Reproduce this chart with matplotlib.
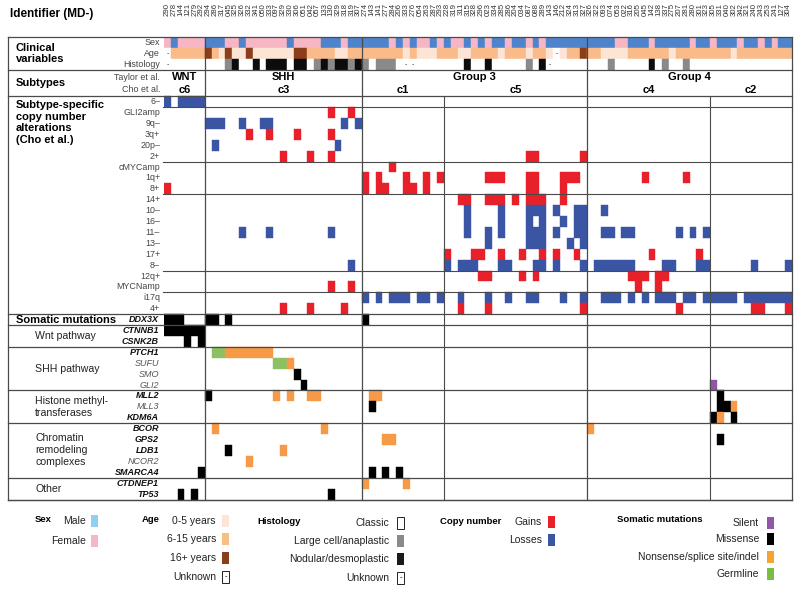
import matplotlib.pyplot as plt
from matplotlib import transforms
from matplotlib.patches import Rectangle

plt.rcParams['font.family'] = ['Liberation Sans', 'DejaVu Sans']

# ---------------- data ----------------
# sample identifiers (MD-), left to right
sample_ids = ('290 278 144 121 279 292 '
              '294 286 317 045 325 326 332 341 050 333 097 329 330 306 051 042 057 133 130 329 '
              '318 319 307 '
              '274 143 141 277 284 206 333 276 054 263 287 293 '
              '228 319 311 315 328 296 023 334 285 286 204 034 087 088 289 143 146 212 324 313 327 '
              '326 322 093 074 053 022 316 205 045 142 138 337 275 207 281 280 301 323 305 331 '
              '040 302 342 321 240 243 253 241 127 304').split()

taylor = ['WNT', 'SHH', 'Group 3', 'Group 4']
taylor_n = [6, 23, 33, 30]
cho = ['c6', 'c3', 'c1', 'c5', 'c4', 'c2']
cho_n = [6, 23, 12, 21, 18, 12]

# M = male, F = female
sex = ('FMFFFF' 'MMMFFMFFFFFFMFFFFMMMFMM' 'MMMMFMFMFFMF' 'MFFMFMFMMFMMFMFMMMMMM'
       'MMMMFFMMMFMMMMMFMM' 'FMMMFMMFMFMM')
# 0 = 0-5 years, 6 = 6-15 years, A = 16+ years, - = unknown
age = ('-66666' 'A60A00A000000AA66660066' '666666060006' '6600666606660660-066A'
       '660000666666066666' '666066666666')
# C = classic, L = large cell/anaplastic, N = nodular/desmoplastic, - = unknown
histology = ('-CCCCC' 'CCCLNCCNCNNNCNNCLNLNNLN' 'LCLLLC--CCCC' 'CCCNCCNCCCCCLCN-CCCCC'
             'CCCLCCCCCNCLCCLCCC' 'CCCCCCCCCCCC')

cna_labels = ['6\u2013', 'GLI2amp', '9q\u2013', '3q+', '20p\u2013', '2+', 'cMYCamp', '1q+', '8+',
              '14+', '10\u2013', '16\u2013', '11\u2013', '13\u2013', '17+', '8\u2013', '12q+',
              'MYCNamp', 'i17q', '4+']
cna_gain = [0, 1, 0, 1, 0, 1, 1, 1, 1, 1, 0, 0, 0, 0, 1, 0, 1, 1, 0, 1]
cna_samples = [
    [0, 2, 3, 4, 5],
    [24, 27],
    [6, 7, 8, 11, 14, 15, 26, 28],
    [12, 15, 19, 24],
    [7, 25],
    [17, 21, 24, 53, 54, 61],
    [33],
    [29, 31, 35, 38, 40, 47, 48, 49, 53, 54, 58, 59, 60, 70, 76],
    [0, 29, 31, 32, 35, 36, 38, 53, 54, 58],
    [43, 44, 47, 48, 49, 51, 53, 54, 55, 58],
    [44, 49, 53, 54, 55, 57, 60, 61, 64],
    [44, 49, 53, 55, 58, 60, 61],
    [11, 15, 24, 44, 47, 49, 53, 54, 55, 57, 60, 61, 64, 65, 67, 68, 75, 77, 79],
    [47, 53, 54, 55, 59, 61],
    [41, 45, 46, 49, 52, 55, 57, 60, 71, 78],
    [27, 41, 43, 44, 45, 49, 50, 54, 55, 57, 61, 63, 64, 65, 66, 67, 68, 73, 74, 78, 79, 86, 91],
    [46, 47, 52, 54, 68, 69, 70, 72, 73],
    [24, 27, 69, 72],
    [29, 31, 33, 34, 35, 37, 38, 40, 43, 47, 50, 53, 54, 58, 61, 64, 65, 66, 68, 70, 72, 73, 74,
     76, 77, 79, 80, 81, 82, 83, 85, 86, 87, 88, 89, 90, 91],
    [17, 21, 26, 43, 47, 61, 75, 86, 87, 91],
]

mut_genes = ['DDX3X', 'CTNNB1', 'CSNK2B', 'PTCH1', 'SUFU', 'SMO', 'GLI2', 'MLL2', 'MLL3', 'KDM6A',
             'BCOR', 'GPS2', 'LDB1', 'NCOR2', 'SMARCA4', 'CTDNEP1', 'TP53']
mut_bold = [1, 1, 1, 1, 0, 0, 0, 1, 0, 1, 1, 1, 1, 0, 1, 1, 1]
# sample + type  (M = missense, N = nonsense/splice site/indel, G = germline, S = silent)
mut_calls = [
    '0M 1M 2M 6M 7M 9M 29M',
    '0M 1M 2M 3M 4M 5M',
    '3M 5M',
    '7G 8G 9N 10N 11N 12N 13N 14N 15N',
    '16G 17G 18N',
    '19M',
    '20M 80S',
    '6M 16N 18N 21N 22N 30N 31N 81M',
    '30M 81M 82M 83N',
    '80M 81N 83M',
    '7N 23N 62N',
    '32N 33N 81M',
    '9M 17N',
    '12N',
    '5M 30M 32M 34M',
    '29N 35N',
    '2M 4M 24M',
]
mut_groups = ['Somatic mutations', 'Wnt pathway', 'SHH pathway', 'Histone methyl-\ntransferases',
              'Chromatin\nremodeling\ncomplexes', 'Other']
mut_group_n = [1, 2, 4, 3, 5, 2]

# ---------------- colours ----------------
sex_col = {'M': '#4f83cc', 'F': '#f6b6c4'}
age_col = {'0': '#fde5d6', '6': '#f9bb89', 'A': '#8c3d19', '-': 'white'}
hist_col = {'C': 'white', 'L': '#8a8a8a', 'N': '#0c0c0c', '-': 'white'}
gain_col, loss_col = '#e8202a', '#3b55a5'
mut_col = {'M': '#000000', 'N': '#f79a48', 'G': '#8cc063', 'S': '#8e57a8'}
line_col = '#4a4a4a'

# ---------------- figure ----------------
W, H = 800, 589
fig = plt.figure(figsize=(W / 100, H / 100), dpi=100)
TOP, BOT, LEFT, RIGHT, OUTER = 37.3, 499.5, 164, 792, 8
ax = fig.add_axes([LEFT / W, 1 - BOT / H, (RIGHT - LEFT) / W, (BOT - TOP) / H])

n = len(sex)
row_sub = 3
row_cna = 5.4
row_mut = row_cna + len(cna_labels)
row_end = row_mut + len(mut_genes)
ax.set_xlim(0, n)
ax.set_ylim(row_end, 0)
ax.axis('off')

# pixel transform (x right, y down from top-left of the figure)
pix = transforms.Affine2D().scale(1 / W, -1 / H).translate(0, 1) + fig.transFigure
side = transforms.blended_transform_factory(pix, ax.transData)
head = transforms.blended_transform_factory(ax.transData, pix)


def cells(cols, row, colors):
    if len(cols):
        ax.bar(cols, 1, bottom=row, width=1, align='edge', color=colors,
               edgecolor=colors, linewidth=0.3)


# clinical rows
cols = list(range(n))
cells(cols, 0, [sex_col[s] for s in sex])
cells(cols, 1, [age_col[a] for a in age])
cells(cols, 2, [hist_col[h] for h in histology])
for row, values in [(1, age), (2, histology)]:
    for i, v in enumerate(values):
        if v == '-':
            ax.text(i + 0.5, row + 0.5, '-', ha='center', va='center', fontsize=5, color='#333')

# copy number rows
for r, (samples, g) in enumerate(zip(cna_samples, cna_gain)):
    cells(samples, row_cna + r, gain_col if g else loss_col)

# mutation rows
for r, calls in enumerate(mut_calls):
    for call in calls.split():
        cells([int(call[:-1])], row_mut + r, mut_col[call[-1]])

# ---------------- grid lines ----------------
def hline(y, x0=OUTER, lw=0.9):
    ax.plot([x0, RIGHT], [y, y], transform=side, color=line_col, lw=lw, clip_on=False)


for y in [0, row_sub, row_cna, row_mut, row_end]:
    hline(y)
y = row_mut
for k in mut_group_n:
    y += k
    hline(y)
for y in [1, 6, 9, 16, 18]:
    hline(row_cna + y, x0=LEFT - 1, lw=0.8)
ax.plot([OUTER, OUTER], [0, row_end], transform=side, color=line_col, lw=0.9, clip_on=False)
ax.plot([RIGHT, RIGHT], [0, row_end], transform=side, color=line_col, lw=0.9, clip_on=False)

edge = 0
for k in taylor_n[:-1]:
    edge += k
    ax.vlines(edge, 0, row_end, color=line_col, lw=0.9)
for e in [41, 80]:
    ax.vlines(e, row_cna, row_end, color=line_col, lw=0.8)

# ---------------- texts ----------------
fig.text(10, 14, 'Identifier (MD-)', transform=pix, fontsize=8.5, fontweight='bold', va='center')
for i, sid in enumerate(sample_ids[:n]):
    ax.text(i + 0.5, 3, sid, transform=head, rotation=90, ha='center', va='top',
            fontsize=5.6, color='#333333')

bold = dict(fontsize=8, fontweight='bold', va='center', ha='left')
small = dict(fontsize=6.4, color='#444444', ha='right', va='center')
ax.text(16, 1.5, 'Clinical\nvariables', transform=side, linespacing=1.15, **bold)
for r, lab in enumerate(['Sex', 'Age', 'Histology']):
    ax.text(160, r + 0.5, lab, transform=side, **small)

ax.text(16, row_sub + 1.2, 'Subtypes', transform=side, **bold)
ax.text(160, row_sub + 0.65, 'Taylor et al.', transform=side, **small)
ax.text(160, row_sub + 1.75, 'Cho et al.', transform=side, **small)
start = 0
for name, k in zip(taylor, taylor_n):
    ax.text(start + k / 2, row_sub + 0.65, name, ha='center', va='center', fontsize=8,
            fontweight='bold')
    start += k
start = 0
for name, k in zip(cho, cho_n):
    ax.text(start + k / 2, row_sub + 1.8, name, ha='center', va='center', fontsize=8,
            fontweight='bold')
    start += k

ax.text(16, row_cna + 0.35, 'Subtype-specific\ncopy number\nalterations\n(Cho et al.)',
        transform=side, fontsize=8, fontweight='bold', va='top', ha='left', linespacing=1.2)
for r, lab in enumerate(cna_labels):
    ax.text(160, row_cna + r + 0.5, lab, transform=side, **small)

y = row_mut
for g, k in zip(mut_groups, mut_group_n):
    if g == 'Somatic mutations':
        ax.text(16, y + k / 2, g, transform=side, **bold)
    else:
        ax.text(35, y + k / 2, g, transform=side, fontsize=7.6, va='center', ha='left',
                linespacing=1.25, color='#222222')
    y += k
for r, (gene, b) in enumerate(zip(mut_genes, mut_bold)):
    ax.text(159, row_mut + r + 0.5, gene, transform=side, ha='right', va='center', fontsize=6.5,
            style='italic', fontweight='bold' if b else 'normal',
            color='#111111' if b else '#555555')

# ---------------- legend ----------------
leg_head = dict(transform=pix, fontsize=6.8, fontweight='bold', va='center', ha='left')
leg_lab = dict(transform=pix, fontsize=7.5, va='center', ha='right', color='#222222')


def swatch(x, y, color, outline=False, dash=False):
    fig.patches.append(Rectangle((x, y - 6), 7, 12, transform=pix,
                                 facecolor=color, edgecolor='#222222' if outline else color,
                                 lw=0.7 if outline else 0))
    if dash:
        fig.text(x + 3.5, y, '-', transform=pix, fontsize=5.5, ha='center', va='center')


fig.text(35, 519, 'Sex', **leg_head)
for lab, y, c in [('Male', 521, '#8fd0f1'), ('Female', 541, '#f6b6c4')]:
    fig.text(86, y, lab, **leg_lab)
    swatch(91, y, c)

fig.text(142, 520, 'Age', **leg_head)
for lab, y, c in [('0-5 years', 521, '#fde5d6'), ('6-15 years', 539, '#fbbd88'),
                  ('16+ years', 558, '#8c3d19')]:
    fig.text(216, y, lab, **leg_lab)
    swatch(222, y, c)
fig.text(216, 577, 'Unknown', **leg_lab)
swatch(222, 577, 'white', outline=True, dash=True)

fig.text(257, 522, 'Histology', **leg_head)
for lab, y, c in [('Classic', 523, 'white'), ('Large cell/anaplastic', 541, '#8a8a8a'),
                  ('Nodular/desmoplastic', 559, '#1a1a1a')]:
    fig.text(389, y, lab, **leg_lab)
    swatch(397, y, c, outline=(c == 'white'))
fig.text(389, 578, 'Unknown', **leg_lab)
swatch(397, 578, 'white', outline=True, dash=True)

fig.text(440, 522, 'Copy number', **leg_head)
for lab, y, c in [('Gains', 522, gain_col), ('Losses', 540, loss_col)]:
    fig.text(542, y, lab, **leg_lab)
    swatch(548, y, c)

fig.text(617, 520, 'Somatic mutations', **leg_head)
for lab, y, c in [('Silent', 523, '#9257ab'), ('Missense', 539, '#000000'),
                  ('Nonsense/splice site/indel', 557, '#f5a431'), ('Germline', 574, '#78be45')]:
    fig.text(759, y, lab, **leg_lab)
    swatch(767, y, c)

fig.savefig('out.png', dpi=100)
